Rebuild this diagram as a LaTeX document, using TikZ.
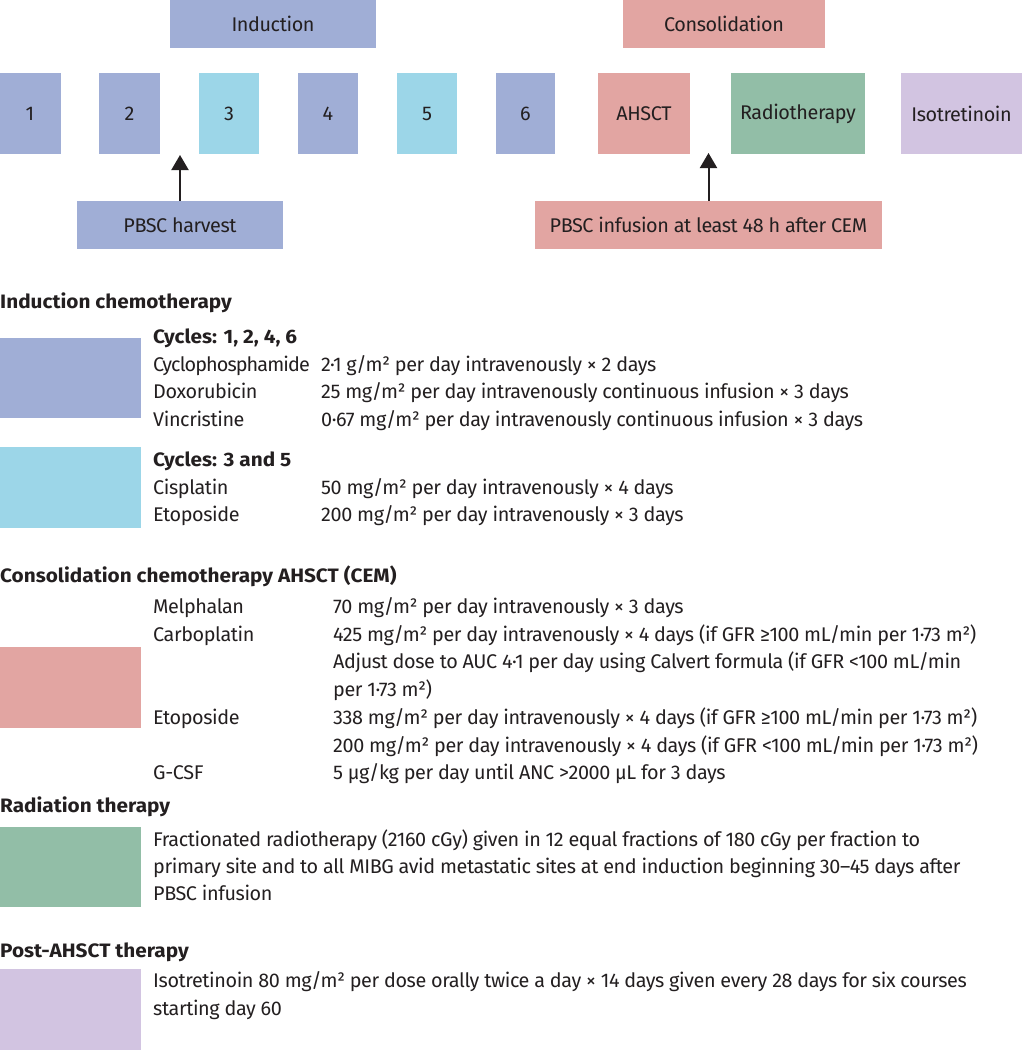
\documentclass[tikz,border=0pt]{standalone}
\usepackage{fontspec}
\setmainfont{Fira Sans}[LetterSpace=-2]
\newfontfamily\hfont{Fira Sans}[FakeStretch=1.07]
\newfontfamily\tightfont{Fira Sans}[LetterSpace=-4.5]
\usetikzlibrary{arrows.meta}
\definecolor{cblue}{HTML}{A0AED6}
\definecolor{ccyan}{HTML}{9CD6E8}
\definecolor{cpink}{HTML}{E2A5A2}
\definecolor{cgreen}{HTML}{92BEA7}
\definecolor{cpurple}{HTML}{D2C4E1}
\definecolor{ink}{HTML}{231F20}
\newcommand\myfs{\fontsize{19.8}{27}\selectfont}
\newcommand\myhfs{\fontsize{19.4}{27}\hfont\bfseries}
\begin{document}
\begin{tikzpicture}[x=1pt,y=-1pt,
  box/.style={fill=#1, draw=none, inner sep=0pt, font=\myfs, text=ink},
  txt/.style={anchor=base west, inner sep=0pt, font=\myfs, text=ink},
  head/.style={anchor=base west, inner sep=0pt, font=\myhfs, text=ink},
  arr/.style={-{Triangle[width=17pt,length=15pt]}, line width=2pt, draw=ink}]
\useasboundingbox (0,0) rectangle (1035,1050);
% top row
\node[box=cblue, minimum width=206pt, minimum height=48pt] (ind) at (273,24) {Induction};
\node[box=cpink, minimum width=202pt, minimum height=48pt] (cons) at (724,24) {Consolidation};
\node[box=cblue, minimum width=61pt, minimum height=81pt] (c1) at (30,113.5) {1};
\node[box=cblue, minimum width=61pt, minimum height=81pt] (c2) at (129.5,113.5) {2};
\node[box=ccyan, minimum width=60pt, minimum height=81pt] (c3) at (229,113.5) {3};
\node[box=cblue, minimum width=60pt, minimum height=81pt] (c4) at (328,113.5) {4};
\node[box=ccyan, minimum width=60pt, minimum height=81pt] (c5) at (427,113.5) {5};
\node[box=cblue, minimum width=59pt, minimum height=81pt] (c6) at (525.5,113.5) {6};
\node[box=cpink, minimum width=92pt, minimum height=81pt] (ahsct) at (644,113.5) {AHSCT};
\node[box=cgreen, minimum width=134pt, minimum height=81pt] (radio) at (798,113.5) {Radiotherapy};
\node[box=cpurple, minimum width=121pt, minimum height=81pt] (iso) at (961.5,113.5) {Isotretinoin};
\node[box=cblue, minimum width=206pt, minimum height=48pt] (harv) at (180,225) {PBSC harvest};
\node[box=cpink, minimum width=347pt, minimum height=48pt] (infu) at (708.5,225) {PBSC infusion at least 48 h after CEM};
\coordinate (h1) at (180,155);
\coordinate (h2) at (708.5,153);
\draw[arr] (harv.north) -- (h1);
\draw[arr] (infu.north) -- (h2);
% induction chemotherapy
\node[head] (hind) at (0,308) {Induction chemotherapy};
\node[box=cblue, minimum width=141pt, minimum height=80pt] (kblue) at (70.5,378) {};
\node[head] (cy1) at (153,343) {Cycles: 1, 2, 4, 6};
\node[txt] (d1) at (153,371) {\tightfont Cyclophosphamide};
\node[txt] (d2) at (153,398) {Doxorubicin};
\node[txt] (d3) at (153,426) {Vincristine};
\node[txt] (v1) at (321,371) {2·1 g/m² per day intravenously × 2 days};
\node[txt] (v2) at (321,398) {25 mg/m² per day intravenously continuous infusion × 3 days};
\node[txt] (v3) at (321,426) {0·67 mg/m² per day intravenously continuous infusion × 3 days};
\node[box=ccyan, minimum width=141pt, minimum height=81pt] (kcyan) at (70.5,487.5) {};
\node[head] (cy2) at (153,466) {Cycles: 3 and 5};
\node[txt] (d4) at (153,494) {Cisplatin};
\node[txt] (d5) at (153,521) {Etoposide};
\node[txt] (v4) at (321,494) {50 mg/m² per day intravenously × 4 days};
\node[txt] (v5) at (321,521) {200 mg/m² per day intravenously × 3 days};
% consolidation
\node[head] (hcons) at (0,582) {Consolidation chemotherapy AHSCT (CEM)};
\node[box=cpink, minimum width=141pt, minimum height=81pt] (kpink) at (70.5,687.5) {};
\node[txt] (d6) at (153,613) {Melphalan};
\node[txt] (d7) at (153,641) {Carboplatin};
\node[txt] (d8) at (153,724) {Etoposide};
\node[txt] (d9) at (153,779) {G-CSF};
\node[txt] (v6) at (333,613) {70 mg/m² per day intravenously × 3 days};
\node[txt] (v7) at (333,641) {425 mg/m² per day intravenously × 4 days (if GFR ≥100 mL/min per 1·73 m²)};
\node[txt] (v8) at (333,668) {Adjust dose to AUC 4·1 per day using Calvert formula (if GFR <100 mL/min};
\node[txt] (v9) at (333,696) {per 1·73 m²)};
\node[txt] (v10) at (333,724) {338 mg/m² per day intravenously × 4 days (if GFR ≥100 mL/min per 1·73 m²)};
\node[txt] (v11) at (333,752) {200 mg/m² per day intravenously × 4 days (if GFR <100 mL/min per 1·73 m²)};
\node[txt] (v12) at (333,779) {5 µg/kg per day until ANC >2000 µL for 3 days};
% radiation
\node[head] (hrad) at (0,812) {Radiation therapy};
\node[box=cgreen, minimum width=141pt, minimum height=80pt] (kgreen) at (70.5,867) {};
\node[txt] (r1) at (153,846) {Fractionated radiotherapy (2160 cGy) given in 12 equal fractions of 180 cGy per fraction to};
\node[txt] (r2) at (153,873) {primary site and to all MIBG avid metastatic sites at end induction beginning 30–45 days after};
\node[txt] (r3) at (153,900) {PBSC infusion};
% post
\node[head] (hpost) at (0,957) {Post-AHSCT therapy};
\node[box=cpurple, minimum width=141pt, minimum height=81pt] (kpurple) at (70.5,1009.5) {};
\node[txt] (p1) at (153,987) {Isotretinoin 80 mg/m² per dose orally twice a day × 14 days given every 28 days for six courses};
\node[txt] (p2) at (153,1015) {starting day 60};
\end{tikzpicture}
\end{document}
